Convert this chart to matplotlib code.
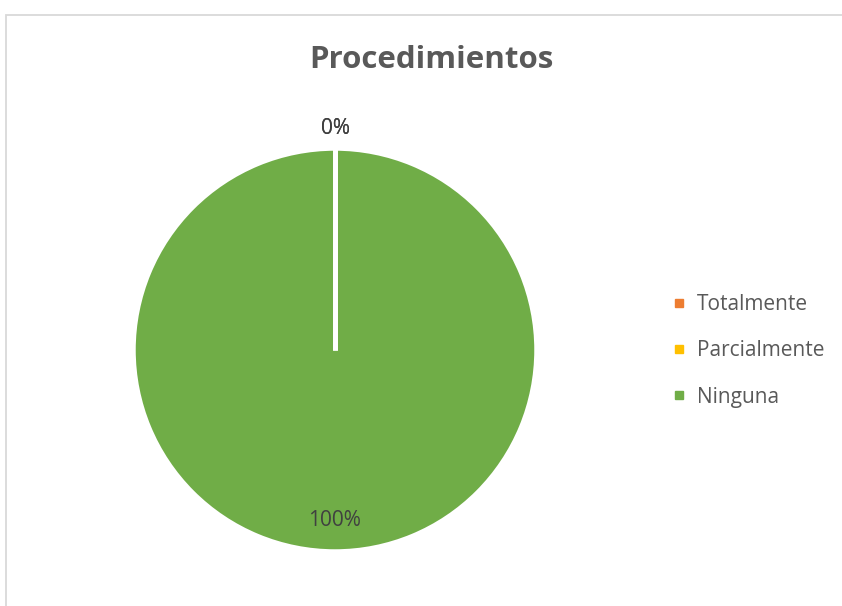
import numpy as np
import matplotlib.pyplot as plt
from matplotlib.lines import Line2D
from matplotlib.patches import Rectangle

categorias = ['Totalmente', 'Parcialmente', 'Ninguna']
valores = [0, 0, 100]
colores = ['#ED7D31', '#FFC000', '#70AD47']

plt.rcParams['font.family'] = ['Open Sans', 'DejaVu Sans']

fig = plt.figure(figsize=(8.42, 6.06), dpi=100)

# marco del área del gráfico (recortado a la derecha y abajo)
fig.patches.append(Rectangle((6 / 842, -0.1), 1.2, (606 - 15) / 606 + 0.1,
                             transform=fig.transFigure, fill=False,
                             edgecolor='#D9D9D9', linewidth=1.3))

ax = fig.add_axes([134 / 842, 1 - 551 / 606, 402 / 842, 402 / 606])
wedges, _ = ax.pie(valores, colors=colores, startangle=90, counterclock=False,
                   wedgeprops=dict(edgecolor='white', linewidth=2.5))
ax.set_xlim(-1, 1)
ax.set_ylim(-1, 1)

# bordes blancos de los sectores (el sector de 360° no dibuja su radio)
for w in wedges:
    a = np.deg2rad(w.theta1)
    ax.plot([0, np.cos(a)], [0, np.sin(a)], color='white', linewidth=3.5,
            solid_capstyle='butt', zorder=3)

total = sum(valores)
vistos = []
for w, v in zip(wedges, valores):
    ang = np.deg2rad((w.theta1 + w.theta2) / 2)
    pct = f'{v / total * 100:.0f}%'
    dist = 1.1 if v == 0 else 0.85
    pos = (round(dist * np.cos(ang), 3), round(dist * np.sin(ang), 3))
    if pos in vistos:
        continue
    vistos.append(pos)
    ax.text(pos[0], pos[1], pct, ha='center', va='center',
            fontsize=15, color='#404040')

fig.text(431 / 842, 1 - 60 / 606, 'Procedimientos', ha='center', va='center',
         fontsize=22.5, fontweight='bold', color='#595959')

handles = [Line2D([], [], marker='s', linestyle='none', markersize=6,
                  markerfacecolor=c, markeredgecolor=c) for c in colores]
fig.legend(handles, categorias, loc='center left',
           bbox_to_anchor=(650 / 842, 1 - 351 / 606), frameon=False,
           fontsize=15, labelcolor='#595959', handletextpad=0.35,
           labelspacing=1.2, handlelength=1.0)

fig.savefig('out.png', dpi=100)
